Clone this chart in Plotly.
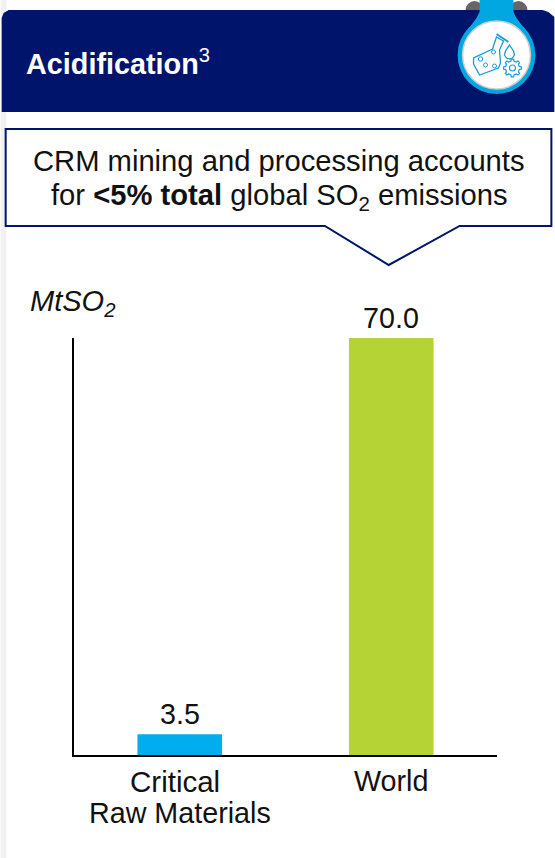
import math
import plotly.graph_objects as go

categories = ["Critical Raw Materials", "World"]
tick_labels = ["", "World"]
values = [3.5, 70.0]
value_labels = ["3.5", "70.0"]
bar_colors = ["#00AEEF", "#B5D334"]

W, H = 555, 858
L, R, T, B = 73.5, 57.5, 338, 103
NAVY = "#00146B"
FONT = "Liberation Sans"


def px(x):
    return (x - L) / (W - L - R)


def py(y):
    return 1 - (y - T) / (H - T - B)


def path(points, close=True):
    s = "M " + " L ".join(f"{px(x):.5f},{py(y):.5f}" for x, y in points)
    return s + (" Z" if close else "")


def rect(x0, y0, x1, y1, fill, line=None, lw=0, layer="below"):
    return dict(type="rect", xref="paper", yref="paper", x0=px(x0), x1=px(x1), y0=py(y0), y1=py(y1),
                fillcolor=fill, line=dict(color=line or fill, width=lw), layer=layer)


def circle(cx, cy, r, fill, line=None, lw=0, layer="above"):
    return dict(type="circle", xref="paper", yref="paper", x0=px(cx - r), x1=px(cx + r), y0=py(cy + r), y1=py(cy - r),
                fillcolor=fill, line=dict(color=line or fill, width=lw), layer=layer)


def poly(points, fill, line=None, lw=0, close=True, layer="above"):
    return dict(type="path", xref="paper", yref="paper", path=path(points, close),
                fillcolor=fill, line=dict(color=line or fill, width=lw), layer=layer)


def gear(cx, cy, r_out, r_in, teeth=8):
    pts = []
    for i in range(teeth):
        a = 2 * math.pi * i / teeth
        step = 2 * math.pi / teeth
        for frac, r in ((-0.3, r_in), (-0.16, r_out), (0.16, r_out), (0.3, r_in)):
            pts.append((cx + r * math.cos(a + frac * step), cy + r * math.sin(a + frac * step)))
    return pts


BLUE = "#00A7E1"
ICON = "#1A9BD7"
shapes = [
    rect(0, 0, 6, H, "#F1F1F1"),
    rect(6, 10, W, H, "#FFFFFF"),
    circle(475, 10, 9, "#666666", layer="below"),
    circle(519, 10, 9, "#666666", layer="below"),
    # header with rounded top corners
    poly([(1, 112), (1, 18), (3, 13), (8, 10), (543, 10), (549, 12), (555, 17), (555, 112)], NAVY, layer="below"),
    # icon tab
    poly([(480, 0), (514, 0), (514, 12), (517, 18), (526, 30), (468, 30), (477, 18), (480, 12)], BLUE),
    circle(497, 55, 39, BLUE),
    circle(497, 55, 34, "#FFFFFF", "#CFCFCF", 1.5),
    # flask
    poly([(497, 37), (493, 49), (474, 58), (474, 64), (480, 75), (499, 68), (501, 63), (500, 50), (504, 41)],
         "#FFFFFF", ICON, 1.3),
    poly([(497, 34), (509, 42)], "#FFFFFF", ICON, 1.8, close=False),
    circle(494, 52, 2, "#FFFFFF", ICON, 1),
    circle(481, 59, 2.2, "#FFFFFF", ICON, 1),
    circle(486, 65, 2, "#FFFFFF", ICON, 1),
    circle(495, 66, 2, "#FFFFFF", ICON, 1),
    # droplet
    poly([(510, 45), (514, 51), (515, 55), (513, 58), (510, 59), (507, 58), (505, 55), (506, 51)],
         "#FFFFFF", ICON, 1.3),
    # gear
    poly(gear(513, 68, 9, 7), "#FFFFFF", ICON, 1.2),
    circle(513, 68, 3, "#FFFFFF", ICON, 1.1),
    # callout
    poly([(5, 129), (552, 129), (552, 226), (460, 226), (389, 265), (325, 226), (5, 226)], "#FFFFFF", NAVY, 2,
         layer="below"),
]


def note(text, x, y, size, color="#111111", anchor="center", yanchor="middle"):
    return dict(text=text, xref="paper", yref="paper", x=px(x), y=py(y), xanchor=anchor, yanchor=yanchor,
                showarrow=False, font=dict(family=FONT, size=size, color=color), align="center")


annotations = [
    note("<b>Acidification</b><sup>3</sup>", 23, 62, 28.8, "#FFFFFF", "left"),
    note("CRM mining and processing accounts", 279, 161, 29.2),
    note("for <b>&lt;5% total</b> global SO<sub>2</sub> emissions", 279, 197, 29.2),
    note("<i>MtSO<sub>2</sub></i>", 27, 303, 29, anchor="left"),
    note("Critical", 175, 781, 29.5),
    note("Raw Materials", 179.5, 813, 28.7),
]
for category, value, label in zip(categories, values, value_labels):
    annotations.append(dict(text=label, xref="x", yref="y", x=category, y=value, xanchor="center", yanchor="bottom",
                            yshift=2, showarrow=False, font=dict(family=FONT, size=28.7, color="#111111")))

fig = go.Figure(go.Bar(
    x=categories, y=values, width=0.4, marker=dict(color=bar_colors, line_width=0), cliponaxis=False,
))
fig.update_layout(
    width=W, height=H, margin=dict(l=L, r=R, t=T, b=B, autoexpand=False),
    paper_bgcolor="rgba(0,0,0,0)", plot_bgcolor="rgba(0,0,0,0)", showlegend=False,
    shapes=shapes, annotations=annotations,
)
fig.update_xaxes(showline=True, linecolor="#000000", linewidth=2, ticks="", showgrid=False,
                 tickmode="array", tickvals=categories, ticktext=tick_labels,
                 tickfont=dict(family=FONT, size=28.7, color="#111111"), automargin=False)
fig.update_yaxes(range=[0, 70], showline=True, linecolor="#000000", linewidth=2, ticks="", showgrid=False,
                 showticklabels=False, zeroline=False, automargin=False)
fig.write_html("out.html", config={"displayModeBar": False},
               post_script="document.body.style.margin='0';document.body.style.overflow='hidden';")
